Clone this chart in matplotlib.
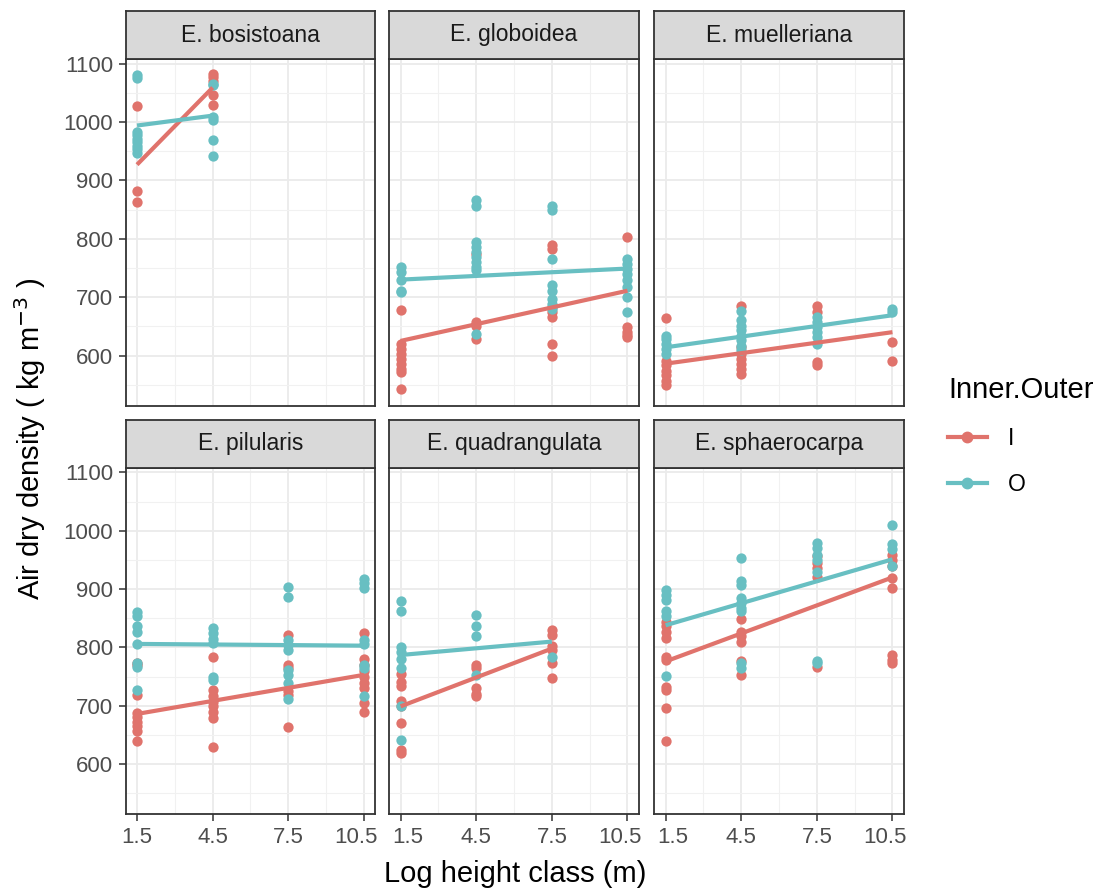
import matplotlib
matplotlib.use('Agg')
import matplotlib.pyplot as plt
from matplotlib.lines import Line2D
from matplotlib.transforms import ScaledTranslation

plt.rcParams['font.family'] = ['Liberation Sans', 'DejaVu Sans']

# facet order and height classes
species = ['E. bosistoana', 'E. globoidea', 'E. muelleriana',
           'E. pilularis', 'E. quadrangulata', 'E. sphaerocarpa']
x_ticks = [1.5, 4.5, 7.5, 10.5]
y_ticks = [600, 700, 800, 900, 1000, 1100]

# air dry density, inner (I) and outer (O) wood
bosistoana_I = {1.5: [1027, 881, 863], 4.5: [1083, 1077, 1071, 1046, 1029]}
bosistoana_O = {1.5: [1080, 1076, 983, 977, 971, 965, 959, 953, 947],
                4.5: [1065, 1063, 1009, 1003, 970, 942]}

globoidea_I = {1.5: [678, 620, 611, 603, 594, 586, 577, 571, 543],
               4.5: [774, 657, 651, 629],
               7.5: [789, 783, 683, 674, 666, 620, 600],
               10.5: [803, 649, 640, 635, 631]}
globoidea_O = {1.5: [751, 743, 729, 711, 709],
               4.5: [866, 857, 794, 786, 777, 769, 760, 751, 746, 637],
               7.5: [857, 849, 766, 720, 711, 697, 689, 680],
               10.5: [766, 757, 749, 740, 729, 717, 700, 674]}

muelleriana_I = {1.5: [665, 591, 583, 574, 566, 557, 549],
                 4.5: [684, 614, 603, 594, 586, 577, 569],
                 7.5: [684, 674, 589, 583],
                 10.5: [623, 591]}
muelleriana_O = {1.5: [634, 629, 620, 611, 603],
                 4.5: [677, 660, 651, 643, 634, 626, 617, 609],
                 7.5: [666, 657, 649, 640, 631, 620],
                 10.5: [680, 674]}

pilularis_I = {1.5: [774, 770, 719, 687, 681, 673, 665, 656, 640],
               4.5: [783, 727, 716, 707, 699, 690, 679, 629],
               7.5: [822, 770, 764, 725, 719, 663],
               10.5: [825, 780, 770, 759, 750, 739, 730, 705, 690]}
pilularis_O = {1.5: [860, 853, 836, 827, 806, 773, 767, 727],
               4.5: [833, 824, 815, 807, 750, 744],
               7.5: [903, 886, 813, 805, 796, 762, 753, 739, 711],
               10.5: [917, 910, 902, 813, 806, 770, 764, 716]}

quadrangulata_I = {1.5: [754, 740, 734, 709, 699, 671, 625, 619],
                   4.5: [770, 764, 730, 721, 716],
                   7.5: [829, 822, 802, 796, 773, 747]}
quadrangulata_O = {1.5: [879, 862, 801, 793, 781, 764, 699, 641],
                   4.5: [856, 836, 819, 753],
                   7.5: [784]}

sphaerocarpa_I = {1.5: [844, 836, 827, 816, 784, 779, 733, 727, 697, 640],
                  4.5: [849, 827, 819, 810, 776, 753],
                  7.5: [956, 944, 936, 921, 767],
                  10.5: [959, 950, 939, 919, 902, 787, 779, 773]}
sphaerocarpa_O = {1.5: [899, 890, 882, 862, 853, 751],
                  4.5: [954, 913, 907, 884, 876, 867, 862, 773, 764],
                  7.5: [979, 970, 959, 950, 930, 776, 773],
                  10.5: [1009, 977, 969, 940]}

points_I = [bosistoana_I, globoidea_I, muelleriana_I, pilularis_I, quadrangulata_I, sphaerocarpa_I]
points_O = [bosistoana_O, globoidea_O, muelleriana_O, pilularis_O, quadrangulata_O, sphaerocarpa_O]

# lm fit lines, value at first and last height class
fit_I = [(927, 1059), (625, 711), (586, 640), (686, 753), (699, 798), (776, 920)]
fit_O = [(994, 1011), (730, 749), (614, 669), (806, 803), (787, 810), (838, 951)]

col_I = '#E0736C'
col_O = '#68BFC2'

W, H = 1101, 890
fig = plt.figure(figsize=(W / 100, H / 100), dpi=100)


def box(l, t, r, b):
    return [l / W, 1 - b / H, (r - l) / W, (b - t) / H]


col_left = [125.7, 389.3, 654.3]
panel_w = 249.5
rows = [(11, 59, 405.7), (420, 467.7, 814.3)]

for i, name in enumerate(species):
    r, c = divmod(i, 3)
    strip_top, top, bottom = rows[r]
    left = col_left[c]

    ax = fig.add_axes(box(left, top, left + panel_w, bottom))
    ax.set_xlim(1.05, 10.95)
    ax.set_ylim(514, 1108)
    ax.set_xticks(x_ticks)
    ax.set_xticks([3, 6, 9], minor=True)
    ax.set_yticks(y_ticks)
    ax.set_yticks([550, 650, 750, 850, 950, 1050], minor=True)
    ax.grid(which='major', color='#EBEBEB', lw=1.3)
    ax.grid(which='minor', color='#F1F1F1', lw=0.8)
    ax.set_axisbelow(True)
    for s in ax.spines.values():
        s.set_color('#333333')
        s.set_linewidth(1.3)
    ax.tick_params(which='major', length=5, width=1.1, color='#333333',
                   labelsize=16, labelcolor='#4D4D4D', pad=4)
    ax.tick_params(which='minor', length=0)
    if c != 0:
        ax.tick_params(axis='y', which='major', length=0, labelleft=False)
    if r == 0:
        ax.tick_params(axis='x', which='major', length=0, labelbottom=False)
    ax.set_xticklabels([str(t) for t in x_ticks])
    # edge labels sit a little inward, as in the reference
    labels = ax.get_xticklabels()
    shifts = [0 if c == 0 else 7, 0, 0, -8]
    for lab, dx in zip(labels, shifts):
        lab.set_transform(lab.get_transform() + ScaledTranslation(dx / 100, 0, fig.dpi_scale_trans))

    for data, color in [(points_I[i], col_I), (points_O[i], col_O)]:
        for x, vals in data.items():
            ax.scatter([x] * len(vals), vals, s=55, color=color, lw=0, zorder=2)

    for data, fit, color in [(points_I[i], fit_I[i], col_I), (points_O[i], fit_O[i], col_O)]:
        xs = list(data.keys())
        ax.plot([min(xs), max(xs)], list(fit), color=color, lw=3, zorder=3,
                solid_capstyle='butt')

    sax = fig.add_axes(box(left, strip_top, left + panel_w, top))
    sax.set_facecolor('#D9D9D9')
    sax.set_xticks([])
    sax.set_yticks([])
    for s in sax.spines.values():
        s.set_color('#333333')
        s.set_linewidth(1.3)
    sax.text(0.5, 0.5, name, ha='center', va='center', fontsize=16.5,
             color='#1A1A1A', transform=sax.transAxes)

fig.text(515 / W, 1 - 874 / H, 'Log height class (m)', ha='center', va='center',
         fontsize=21)
fig.text(30 / W, 1 - 439 / H, 'Air dry density ( kg m$^{-3}$ )', ha='center',
         va='center', rotation=90, fontsize=21)

handles = [Line2D([], [], color=col_I, lw=3, marker='o', markersize=7.5),
           Line2D([], [], color=col_O, lw=3, marker='o', markersize=7.5)]
leg = fig.legend(handles, ['I', 'O'], title='Inner.Outer', loc='center left',
                 bbox_to_anchor=(948 / W, 1 - 436 / H), frameon=False,
                 fontsize=16.5, title_fontsize=21, handlelength=1.7,
                 labelspacing=1.0, handletextpad=0.9, borderpad=0,
                 borderaxespad=0)
leg._legend_box.align = 'left'

fig.savefig('out.png', dpi=100)
